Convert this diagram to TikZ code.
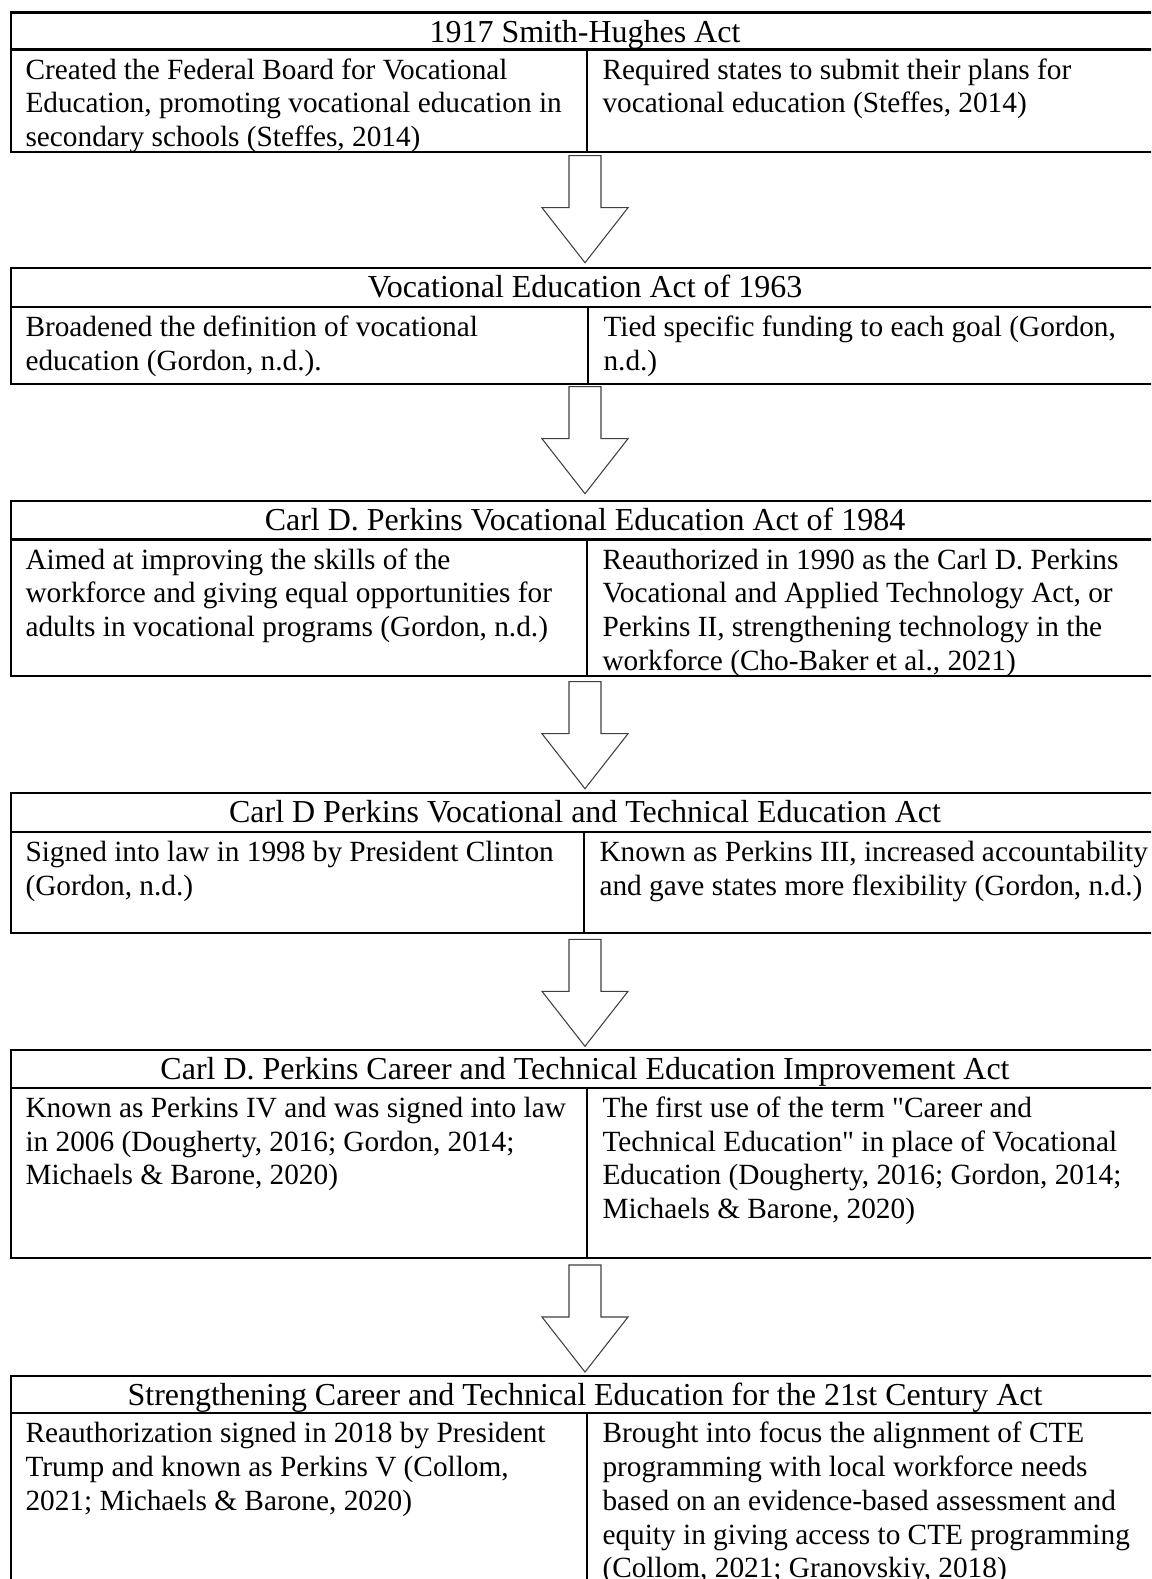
\documentclass[tikz,border=0pt]{standalone}
\usepackage{fontspec}
\setmainfont{Liberation Serif}[Ligatures=TeXOff]
\usepackage{tikz}
\usetikzlibrary{arrows}
\usetikzlibrary{positioning}
\newcommand{\bodyfont}{\fontsize{11}{12.65}\selectfont}
\newcommand{\headfont}{\fontsize{12}{13.8}\selectfont}
\newcommand{\cellstrut}{\rule{0pt}{0.891em}}

\begin{document}
\begin{tikzpicture}
		[x=0.3754pt,y=-0.3754pt,
		rule/.style={line width=0.8pt},
		hollow/.style={draw=black!75,line width=0.4pt,fill=white,line join=miter},
		head/.style={anchor=base,inner sep=0pt,font=\headfont},
		cell/.style={anchor=north west,inner sep=0pt,align=left,font=\bodyfont}]
		\clip (0,0) rectangle (1151,1579);
		
		\foreach \ya/\yb/\yc/\xm in
		{12.5/49.5/152/587, 268.3/306.7/384/588, 501/539.5/676/587,
		792.7/831.7/932.7/584, 1050/1087.7/1258.3/586.7, 1375.7/1413.3/1590/587}
		\draw[rule] (11,\ya) rectangle (1163,\yc) (11,\yb) -- (1163,\yb) (\xm,\yb) -- (\xm,\yc);
		
		\foreach \ya in {155.7,386.7,681.7,939.3,1265}
		\draw[hollow] (569,\ya) -- (601,\ya) -- (601,{\ya+52}) -- (628,{\ya+52})
		-- (585,{\ya+107}) -- (542,{\ya+52}) -- (569,{\ya+52}) -- cycle;
		
		\node[head] (h1) at (585,42) {1917 Smith-Hughes Act};
		\node[cell] (l1) at (25,52.5) {\cellstrut Created the Federal Board for Vocational\\Education, promoting vocational education in\\secondary schools (Steffes, 2014)};
		\node[cell] (r1) at (602,52.5) {\cellstrut Required states to submit their plans for\\vocational education (Steffes, 2014)};
		
		\node[head] (h2) at (585,297.8) {Vocational Education Act of 1963};
		\node[cell] (l2) at (25,309.7) {\cellstrut Broadened the definition of vocational\\education (Gordon, n.d.).};
		\node[cell] (r2) at (603,309.7) {\cellstrut Tied specific funding to each goal (Gordon,\\n.d.)};
		
		\node[head] (h3) at (585,530.5) {Carl D. Perkins Vocational Education Act of 1984};
		\node[cell] (l3) at (25,542.5) {\cellstrut Aimed at improving the skills of the\\workforce and giving equal opportunities for\\adults in vocational programs (Gordon, n.d.)};
		\node[cell] (r3) at (602,542.5) {\cellstrut Reauthorized in 1990 as the Carl D. Perkins\\Vocational and Applied Technology Act, or\\Perkins II, strengthening technology in the\\workforce (Cho-Baker et al., 2021)};
		
		\node[head] (h4) at (585,822.2) {Carl D Perkins Vocational and Technical Education Act};
		\node[cell] (l4) at (25,834.7) {\cellstrut Signed into law in 1998 by President Clinton\\(Gordon, n.d.)};
		\node[cell] (r4) at (599,834.7) {\cellstrut Known as Perkins III, increased accountability\\and gave states more flexibility (Gordon, n.d.)};
		
		\node[head] (h5) at (585,1079.5) {Carl D. Perkins Career and Technical Education Improvement Act};
		\node[cell] (l5) at (25,1090.7) {\cellstrut Known as Perkins IV and was signed into law\\in 2006 (Dougherty, 2016; Gordon, 2014;\\Michaels \& Barone, 2020)};
		\node[cell] (r5) at (602,1090.7) {\cellstrut The first use of the term "Career and\\Technical Education" in place of Vocational\\Education (Dougherty, 2016; Gordon, 2014;\\Michaels \& Barone, 2020)};
		
		\node[head] (h6) at (585,1405.2) {Strengthening Career and Technical Education for the 21st Century Act};
		\node[cell] (l6) at (25,1416.3) {\cellstrut Reauthorization signed in 2018 by President\\Trump and known as Perkins V (Collom,\\2021; Michaels \& Barone, 2020)};
		\node[cell] (r6) at (602,1416.3) {\cellstrut Brought into focus the alignment of CTE\\programming with local workforce needs\\based on an evidence-based assessment and\\equity in giving access to CTE programming\\(Collom, 2021; Granovskiy, 2018)};
		\end{tikzpicture}
\end{document}
